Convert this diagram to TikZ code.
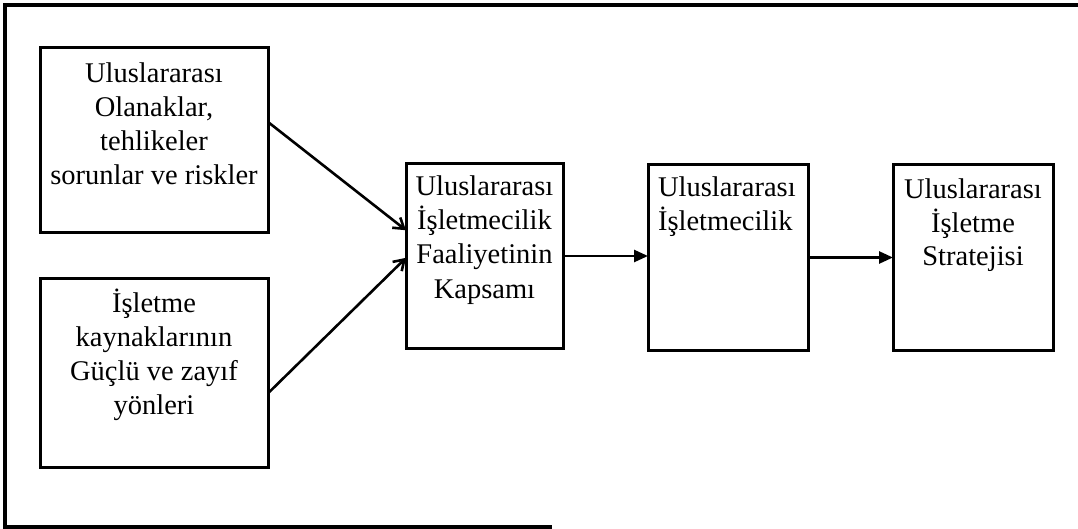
\documentclass[tikz,border=0pt]{standalone}
\usepackage{fontspec}
\setmainfont{Liberation Serif}
\usetikzlibrary{arrows.meta,calc}

% fixed-size box whose text hangs from the top edge
\newcommand\boxcontent[5]{\parbox[c][#2][t]{#1}{#4\rule{0pt}{#3}#5}}

\tikzset{
  stagebox/.style={draw, line width=3pt, inner sep=0pt, outer sep=0pt,
    font=\fontsize{28.5}{34}\selectfont},
  flow/.style={line width=2.6pt, -{Triangle[length=14pt,width=12pt]}},
  slant/.style={line width=2.6pt, -{Straight Barb[length=10pt,width=13pt]}},
  frameline/.style={line width=3.2pt}
}

\begin{document}
\begin{tikzpicture}[x=1pt,y=-1pt]
\useasboundingbox (0,0) rectangle (1078,529);

% outer frame (open on the right and lower right)
\draw[frameline] (1078,5) -- (5,5) -- (5,527) -- (552,527);

\node[stagebox] (b1) at (154,140.5)
  {\boxcontent{228pt}{185pt}{35pt}{\centering}{Uluslararası\\Olanaklar,\\tehlikeler\\sorunlar ve riskler}};
\node[stagebox] (b2) at (154,372.5)
  {\boxcontent{228pt}{189pt}{34pt}{\centering}{İşletme\\kaynaklarının\\Güçlü ve zayıf\\yönleri}};
\node[stagebox] (b3) at (484.5,256)
  {\boxcontent{157pt}{184pt}{32pt}{\centering}{Uluslararası\\İşletmecilik\\Faaliyetinin\\Kapsamı}};
\node[stagebox] (b4) at (728,257.5)
  {\boxcontent{160pt}{185pt}{32pt}{\raggedright\leftskip=10pt}{Uluslararası\\İşletmecilik}};
\node[stagebox] (b5) at (973,257.5)
  {\boxcontent{160pt}{185pt}{33pt}{\centering}{Uluslararası\\İşletme\\Stratejisi}};

% connector end points on the box borders
\coordinate (s1) at ($(b1.north east)!0.40!(b1.south east)$);
\coordinate (s2) at ($(b2.north east)!0.61!(b2.south east)$);
\coordinate (t1) at ($(b3.north west)!0.36!(b3.south west)$);
\coordinate (t2) at ($(b3.north west)!0.51!(b3.south west)$);

\draw[slant] (s1) -- (t1);
\draw[slant] (s2) -- (t2);
\draw[flow] (b3.east) -- (b3.east -| b4.west);
\draw[flow] (b4.east) -- (b4.east -| b5.west);
\end{tikzpicture}
\end{document}
